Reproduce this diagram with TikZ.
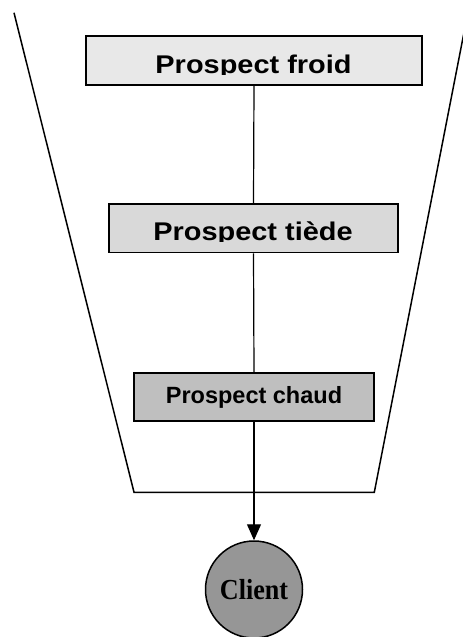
\documentclass[tikz,border=0pt]{standalone}
\usepackage{fontspec}
\usetikzlibrary{arrows.meta}
\newfontfamily\widesans[FakeStretch=1.13]{Liberation Sans}
\newfontfamily\plainsans{Liberation Sans}
\newfontfamily\narrowserif[FakeStretch=0.9]{Liberation Serif}
\tikzset{
  box/.style={draw=black, line width=1.8pt, inner sep=0pt},
  bigtext/.style={anchor=base, inner sep=0pt, font=\widesans\bfseries\fontsize{25.6}{30}\selectfont},
  conn/.style={draw=black, line width=1.2pt},
  funnel/.style={draw=black, line width=1.5pt, line join=miter},
}
\begin{document}
\begin{tikzpicture}[x=1pt, y=-1pt]
\clip (0,0) rectangle (463,637);
\fill[white] (0,0) rectangle (463,637);
% funnel
\draw[funnel] (14,12.7) -- (134,492.3) -- (374.3,492.3) -- (468,12);
% boxes
\node[box, fill=black!9, minimum width=336pt, minimum height=49pt] (froid) at (254,60.5) {};
\node[box, fill=black!15, minimum width=289pt, minimum height=48.5pt] (tiede) at (253.5,228.3) {};
\node[box, fill=black!25, minimum width=240pt, minimum height=48pt, font=\plainsans\bfseries\fontsize{23.5}{28}\selectfont] (chaud) at (254,397.2) {Prospect chaud};
\begin{scope}
  \clip (86,36) rectangle (422,74.8);
  \node[bigtext] (froidtext) at (253.5,73.3) {Prospect froid};
\end{scope}
\begin{scope}
  \clip (109,204) rectangle (398,241.3);
  \node[bigtext] (tiedetext) at (253,240) {Prospect tiède};
\end{scope}
% client
\node[circle, draw=black, line width=1.5pt, fill=black!41, minimum size=97pt, inner sep=0pt, font=\narrowserif\bfseries\fontsize{29}{32}\selectfont] (client) at (254,589.5) {Client};
% connectors
\draw[conn] (froid.south) -- (tiede.north);
\draw[conn] (tiede.south) -- (chaud.north);
\draw[conn, -{Triangle[length=16pt,width=14pt]}] (chaud.south) -- (client.north);
\end{tikzpicture}
\end{document}
